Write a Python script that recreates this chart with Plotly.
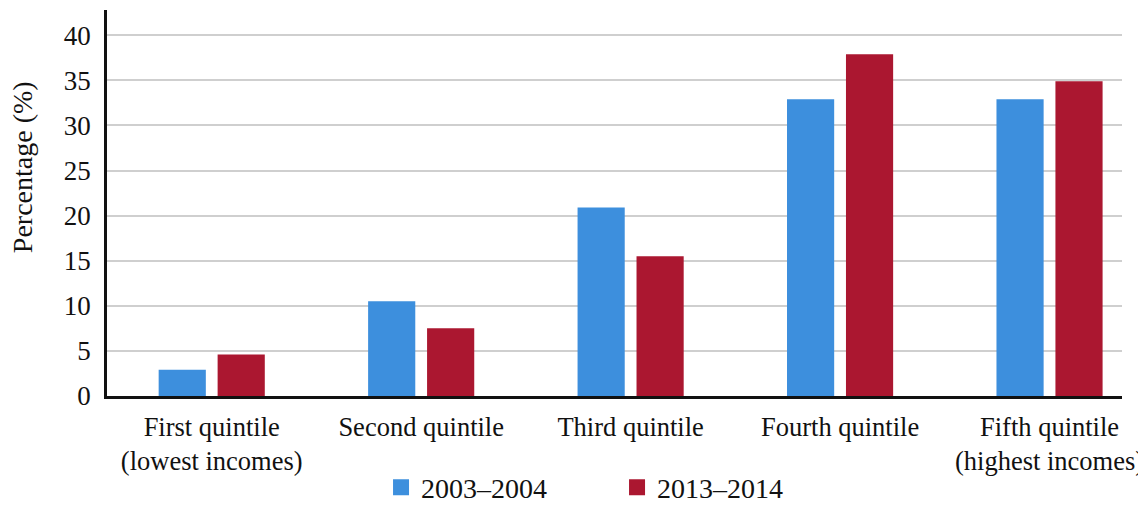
import plotly.graph_objects as go

# data
categories = [
    "First quintile<br>(lowest incomes)",
    "Second quintile",
    "Third quintile",
    "Fourth quintile",
    "Fifth quintile<br>(highest incomes)",
]
series_names = ["2003–2004", "2013–2014"]
values_2003 = [2.9, 10.5, 20.9, 32.9, 32.9]
values_2013 = [4.6, 7.5, 15.5, 37.9, 34.9]
y_ticks = [0, 5, 10, 15, 20, 25, 30, 35, 40]

blue = "#3d8fdd"
red = "#ab1730"
font_family = "Liberation Serif"

fig = go.Figure()

# the bars themselves
for name, vals, color in [(series_names[0], values_2003, blue), (series_names[1], values_2013, red)]:
    fig.add_trace(go.Bar(x=categories, y=vals, name=name, marker_color=color,
                         marker_line_width=0, showlegend=False, legendgroup=name))

# legend entries with bigger square swatches
for name, color in [(series_names[0], blue), (series_names[1], red)]:
    fig.add_trace(go.Scatter(x=[None], y=[None], mode="markers", name=name, legendgroup=name,
                             marker=dict(symbol="square", size=17, color=color)))

# page body has an 8px margin, so the figure is sized to fit inside it
fig.update_layout(
    width=1138, height=497,
    margin=dict(l=99, r=24, t=2, b=109),
    plot_bgcolor="white", paper_bgcolor="white",
    barmode="group", bargap=0.437, bargroupgap=0.2,
    font=dict(family=font_family, color="#111111", size=28),
    legend=dict(orientation="h", xref="container", yref="container",
                x=0.3278, xanchor="left", y=0.035, yanchor="middle",
                entrywidth=191, entrywidthmode="pixels",
                font=dict(size=28, family=font_family), itemsizing="trace"),
)

fig.update_xaxes(
    range=[-0.5, 4.346], showline=True, linecolor="#111111", linewidth=2.5,
    showgrid=False, ticks="", tickfont=dict(size=26.5), ticklabelstandoff=5,
    automargin=False,
)
fig.update_yaxes(
    range=[0, 42.8], tickvals=y_ticks, showline=True, linecolor="#111111", linewidth=2.5,
    showgrid=True, gridcolor="#cfcfcf", gridwidth=1.6, zeroline=False,
    tickfont=dict(size=27), ticklabelstandoff=8, automargin=False,
)

# y title, sits a little above the middle of the axis
fig.add_annotation(text="Percentage (%)", textangle=-90, xref="paper", yref="paper",
                   x=-0.0837, y=0.593, xanchor="center", yanchor="middle",
                   showarrow=False, font=dict(size=28))

fig.write_html("out.html")
